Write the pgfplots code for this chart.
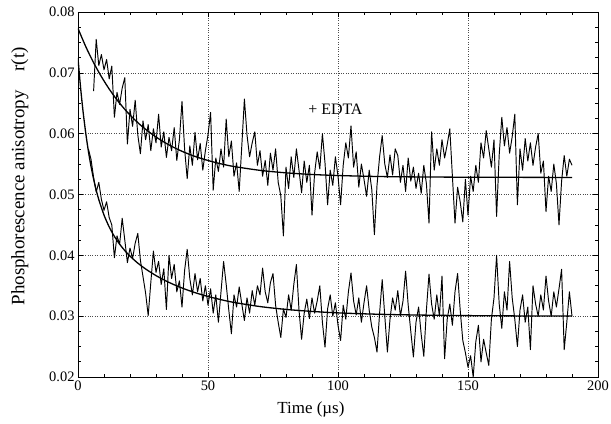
\documentclass[border=0pt]{standalone}
\usepackage{fontspec}
\setmainfont{Liberation Serif}
\usepackage{pgfplots}
\pgfplotsset{compat=1.18}
\usetikzlibrary{calc}

\begin{document}
\begin{tikzpicture}
\begin{axis}[
    scale only axis,
    width=520bp, height=365bp,
    xmin=0, xmax=200, ymin=0.02, ymax=0.08,
    xtick={0,50,100,150,200},
    ytick={0.02,0.03,0.04,0.05,0.06,0.07,0.08},
    minor x tick num=4,
    minor y tick num=3,
    grid=major,
    major grid style={dotted, black!70, line width=0.6bp},
    tick align=inside,
    major tick length=5bp, minor tick length=3bp,
    tick style={black, line width=0.6bp},
    axis line style={line width=0.8bp},
    scaled y ticks=false,
    /pgf/number format/assume math mode=true,
    y tick label style={/pgf/number format/.cd, fixed, fixed zerofill, precision=2, /tikz/.cd},
    tick label style={font=\fontsize{14.5}{14.5}\selectfont},
    xlabel={Time (µs)},
    ylabel={Phosphorescence anisotropy\quad r(t)},
    xlabel style={at={(rel axis cs:0.448,-0.09)}, anchor=center, font=\fontsize{17}{17}\selectfont},
    ylabel style={at={(rel axis cs:-0.112,0.55)}, anchor=center, font=\fontsize{19}{19}\selectfont},
]
\coordinate (bl) at (rel axis cs:0,0);
\coordinate (tr) at (rel axis cs:1,1);

% + EDTA trace
\addplot[black, line width=0.95bp, line join=round] coordinates {
(6,0.0670) (7,0.0755) (8,0.0712) (9,0.0730) (10,0.0705) (11,0.0722) (12,0.0690) (13,0.0711)
(14,0.0627) (15,0.0668) (16,0.0648) (17,0.0675) (18,0.0692) (19,0.0583) (20,0.0640) (21,0.0612)
(22,0.0655) (23,0.0598) (24,0.0567) (25,0.0621) (26,0.0590) (27,0.0615) (28,0.0572) (29,0.0608)
(30,0.0585) (31,0.0632) (32,0.0578) (33,0.0603) (34,0.0561) (35,0.0594) (36,0.0572) (37,0.0610)
(38,0.0556) (39,0.0590) (40,0.0653) (41,0.0575) (42,0.0526) (43,0.0580) (44,0.0548) (45,0.0602)
(46,0.0557) (47,0.0584) (48,0.0540) (49,0.0572) (50,0.0598) (51,0.0635) (52,0.0507) (53,0.0560)
(54,0.0538) (55,0.0575) (56,0.0545) (57,0.0624) (58,0.0562) (59,0.0588) (60,0.0530) (61,0.0552)
(62,0.0505) (63,0.0580) (64,0.0657) (65,0.0598) (66,0.0562) (67,0.0585) (68,0.0603) (69,0.0548)
(70,0.0572) (71,0.0530) (72,0.0556) (73,0.0515) (74,0.0568) (75,0.0540) (76,0.0575) (77,0.0520)
(78,0.0498) (79,0.0432) (80,0.0545) (81,0.0510) (82,0.0562) (83,0.0528) (84,0.0575) (85,0.0540)
(86,0.0503) (87,0.0555) (88,0.0520) (89,0.0548) (90,0.0466) (91,0.0535) (92,0.0570) (93,0.0542)
(94,0.0600) (95,0.0552) (96,0.0483) (97,0.0540) (98,0.0515) (99,0.0562) (100,0.0530) (101,0.0483)
(102,0.0548) (103,0.0585) (104,0.0560) (105,0.0613) (106,0.0545) (107,0.0570) (108,0.0512) (109,0.0550)
(110,0.0525) (111,0.0497) (112,0.0540) (113,0.0508) (114,0.0434) (115,0.0515) (116,0.0562) (117,0.0597)
(118,0.0550) (119,0.0528) (120,0.0565) (121,0.0532) (122,0.0575) (123,0.0564) (124,0.0520) (125,0.0548)
(126,0.0505) (127,0.0560) (128,0.0522) (129,0.0545) (130,0.0510) (131,0.0535) (132,0.0502) (133,0.0548)
(134,0.0518) (135,0.0453) (136,0.0603) (137,0.0540) (138,0.0575) (139,0.0548) (140,0.0590) (141,0.0560)
(142,0.0582) (143,0.0608) (144,0.0530) (145,0.0453) (146,0.0512) (147,0.0488) (148,0.0455) (149,0.0525)
(150,0.0466) (151,0.0530) (152,0.0505) (153,0.0548) (154,0.0520) (155,0.0585) (156,0.0560) (157,0.0605)
(158,0.0575) (159,0.0545) (160,0.0590) (161,0.0464) (162,0.0565) (163,0.0627) (164,0.0580) (165,0.0610)
(166,0.0568) (167,0.0595) (168,0.0632) (169,0.0483) (170,0.0575) (171,0.0540) (172,0.0592) (173,0.0555)
(174,0.0585) (175,0.0548) (176,0.0578) (177,0.0600) (178,0.0535) (179,0.0555) (180,0.0472) (181,0.0530)
(182,0.0505) (183,0.0550) (184,0.0518) (185,0.0450) (186,0.0522) (187,0.0564) (188,0.0530) (189,0.0558)
(190,0.0548)
};

% trace without EDTA
\addplot[black, line width=0.95bp, line join=round] coordinates {
(4,0.0575) (5,0.0558) (6,0.0528) (7,0.0504) (8,0.0520) (9,0.0492) (10,0.0474) (11,0.0488)
(12,0.0462) (13,0.0450) (14,0.0396) (15,0.0432) (16,0.0418) (17,0.0461) (18,0.0425) (19,0.0388)
(20,0.0412) (21,0.0395) (22,0.0420) (23,0.0436) (24,0.0392) (25,0.0365) (26,0.0338) (27,0.0301)
(28,0.0355) (29,0.0407) (30,0.0372) (31,0.0390) (32,0.0352) (33,0.0378) (34,0.0311) (35,0.0400)
(36,0.0362) (37,0.0385) (38,0.0340) (39,0.0358) (40,0.0315) (41,0.0375) (42,0.0410) (43,0.0362)
(44,0.0335) (45,0.0370) (46,0.0340) (47,0.0362) (48,0.0325) (49,0.0350) (50,0.0318) (51,0.0345)
(52,0.0305) (53,0.0335) (54,0.0290) (55,0.0340) (56,0.0390) (57,0.0352) (58,0.0310) (59,0.0271)
(60,0.0335) (61,0.0315) (62,0.0348) (63,0.0320) (64,0.0293) (65,0.0330) (66,0.0305) (67,0.0342)
(68,0.0318) (69,0.0350) (70,0.0335) (71,0.0379) (72,0.0340) (73,0.0322) (74,0.0355) (75,0.0370)
(76,0.0318) (77,0.0290) (78,0.0265) (79,0.0312) (80,0.0298) (81,0.0335) (82,0.0310) (83,0.0352)
(84,0.0385) (85,0.0310) (86,0.0262) (87,0.0305) (88,0.0328) (89,0.0296) (90,0.0330) (91,0.0305)
(92,0.0325) (93,0.0350) (94,0.0290) (95,0.0249) (96,0.0312) (97,0.0335) (98,0.0300) (99,0.0322)
(100,0.0285) (101,0.0260) (102,0.0318) (103,0.0295) (104,0.0340) (105,0.0371) (106,0.0325) (107,0.0302)
(108,0.0330) (109,0.0290) (110,0.0322) (111,0.0350) (112,0.0310) (113,0.0282) (114,0.0265) (115,0.0241)
(116,0.0305) (117,0.0360) (118,0.0300) (119,0.0241) (120,0.0295) (121,0.0330) (122,0.0310) (123,0.0342)
(124,0.0300) (125,0.0325) (126,0.0374) (127,0.0318) (128,0.0275) (129,0.0233) (130,0.0290) (131,0.0315)
(132,0.0270) (133,0.0234) (134,0.0310) (135,0.0369) (136,0.0320) (137,0.0295) (138,0.0335) (139,0.0300)
(140,0.0366) (141,0.0230) (142,0.0295) (143,0.0320) (144,0.0285) (145,0.0340) (146,0.0370) (147,0.0310)
(148,0.0260) (149,0.0240) (150,0.0216) (151,0.0235) (152,0.0200) (153,0.0258) (154,0.0285) (155,0.0225)
(156,0.0262) (157,0.0240) (158,0.0219) (159,0.0295) (160,0.0330) (161,0.0400) (162,0.0320) (163,0.0280)
(164,0.0340) (165,0.0310) (166,0.0390) (167,0.0330) (168,0.0295) (169,0.0250) (170,0.0310) (171,0.0335)
(172,0.0290) (173,0.0315) (174,0.0245) (175,0.0350) (176,0.0320) (177,0.0300) (178,0.0335) (179,0.0310)
(180,0.0366) (181,0.0325) (182,0.0300) (183,0.0340) (184,0.0315) (185,0.0345) (186,0.0377) (187,0.0245)
(188,0.0290) (189,0.0340) (190,0.0300)
};

% fitted decay, + EDTA
\addplot[black, line width=1.3bp, smooth] coordinates {
(0,0.0773) (3,0.0743) (6,0.07167) (9,0.06937) (12,0.06734) (15,0.06556) (18,0.06400)
(21,0.06263) (25,0.06106) (30,0.05945) (35,0.05815) (40,0.05710) (45,0.05626) (50,0.05559)
(55,0.05504) (60,0.05460) (70,0.05397) (80,0.05356) (90,0.05329) (100,0.05312) (115,0.05296)
(130,0.05289) (150,0.05284) (170,0.05282) (190,0.0528)
};

% fitted decay, no EDTA
\addplot[black, line width=1.3bp, smooth] coordinates {
(0,0.0724) (1,0.06753) (2,0.06345) (3,0.06002) (4,0.05711) (5,0.05464) (6,0.05254)
(7,0.05073) (8,0.04916) (10,0.04663) (12,0.04467) (14,0.04311) (16,0.04184) (18,0.04078)
(20,0.03987) (23,0.03872) (26,0.03776) (30,0.03667) (35,0.03555) (40,0.03463) (45,0.03387)
(50,0.03324) (55,0.03271) (60,0.03226) (70,0.03158) (80,0.03111) (90,0.03078) (100,0.03054)
(115,0.03032) (130,0.03019) (150,0.03009) (170,0.03004) (190,0.03002)
};

\node[font=\fontsize{16}{16}\selectfont] at (axis cs:99,0.0640) {+ EDTA};
\end{axis}
\pgfresetboundingbox
\path[use as bounding box] ($(bl)+(-78bp,-47bp)$) rectangle ($(tr)+(13bp,12bp)$);
\end{tikzpicture}
\end{document}
